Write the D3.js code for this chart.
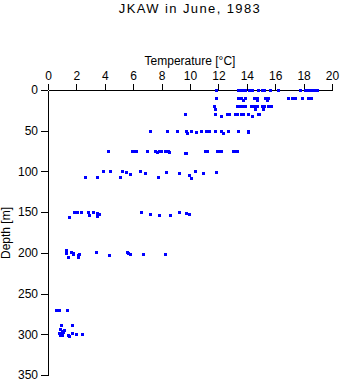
<!DOCTYPE html>
<html>
<head>
<meta charset="utf-8">
<script src="https://cdn.jsdelivr.net/npm/d3@7"></script>
<style>
  html, body { margin: 0; padding: 0; background: #fff; }
  svg { display: block; font-family: "Liberation Sans", Arial, Helvetica, sans-serif; }
</style>
</head>
<body>
<svg id="chart" width="341" height="384"></svg>
<script>
// ---- Data (temperature °C, depth m) ----
const temp0   = [11.8, 13.4, 13.5, 13.7, 13.9, 14.15, 14.4, 14.8, 15.1, 15.2, 15.6, 16.2, 17.75, 18.1, 18.3, 18.5, 18.7, 18.95];
const depth0  = [0, 0, 0, 0, 0, 0, 0, 0, 0, 0, 0, 0, 0, 0, 0, 0, 0, 0];

const temp10  = [11.8, 13.4, 13.5, 13.6, 13.9, 14.5, 14.65, 14.75, 15.3, 15.4, 15.5, 16.9, 17.15, 17.4, 17.9, 18.3, 18.5, 13.7, 14.7, 15.45];
const depth10 = [10, 10, 10, 10, 10, 10, 10, 10, 10, 10, 10, 10, 10, 10, 10, 10, 10, 12, 12, 12];

const temp20  = [11.7, 13.3, 13.5, 13.7, 13.9, 14.3, 14.5, 14.6, 14.7, 15.1, 15.2, 15.5, 15.7, 11.75, 14.6, 15.15];
const depth20 = [20, 20, 20, 20, 20, 20, 20, 20, 20, 20, 20, 20, 20, 23, 23, 23];

const temp30  = [9.65, 11.75, 12.6, 12.75, 13.15, 13.3, 13.6, 13.75, 14.1, 14.8, 14.85, 12.2, 14.35];
const depth30 = [30, 30, 30, 30, 30, 30, 30, 30, 30, 30, 30, 32, 32];

const temp50  = [7.2, 8.4, 9.05, 9.75, 10.1, 10.4, 10.75, 11.15, 11.35, 11.75, 12.2, 12.35, 12.7, 13.35, 14.05, 14.1, 9.8];
const depth50 = [50, 50, 50, 50, 50, 52, 50, 50, 50, 50, 50, 53, 50, 50, 50, 51, 53];

const temp75  = [4.25, 5.95, 6.1, 6.2, 7.0, 7.55, 7.65, 7.85, 7.95, 8.25, 8.45, 8.55, 11.05, 11.2, 11.9, 12.05, 12.15, 13.05, 13.15, 13.3, 9.65, 9.75];
const depth75 = [75, 75, 75, 75, 75, 75, 76, 75, 75, 75, 75, 76, 75, 75, 75, 75, 75, 75, 75, 75, 77, 77];

const temp100  = [2.6, 3.45, 3.9, 4.35, 5.05, 5.2, 5.5, 5.8, 6.5, 6.8, 7.75, 8.3, 9.25, 9.95, 10.05, 10.35, 10.95, 11.85];
const depth100 = [106.5, 106.5, 100, 100, 107, 100, 101, 103, 100, 102, 107, 101, 102, 104, 108, 100, 102, 101];

const temp150  = [1.5, 1.8, 1.9, 2.05, 2.35, 2.8, 2.9, 3.2, 3.45, 3.45, 3.6, 6.55, 7.15, 7.85, 8.6, 9.2, 9.7, 9.95];
const depth150 = [156, 150, 150, 150, 150, 150, 154, 150, 151, 155, 152, 150, 152, 154, 154, 150, 151, 152];

const temp200  = [1.3, 1.27, 1.43, 1.6, 1.74, 1.78, 2.1, 2.2, 2.13, 3.38, 4.3, 5.54, 5.6, 5.77, 6.7, 8.24];
const depth200 = [196.5, 200.5, 204.7, 198.6, 200.5, 201.7, 202.6, 201.7, 204.7, 199.3, 202.6, 198.6, 200.5, 201.7, 201.7, 201.7];

const temp270  = [0.54, 0.65, 0.8, 1.36];
const depth270 = [270, 270, 270, 270];

const temp300  = [0.92, 1.71, 0.85, 0.96, 1.13, 0.8, 0.92, 1.04, 0.85, 0.96, 1.43, 1.5, 1.71, 1.97, 2.42];
const depth300 = [288.6, 288.6, 293.5, 295.6, 294.7, 298, 298.8, 296.8, 301.2, 301.2, 301, 302, 298, 300, 300];

const tempTicks  = [0, 2, 4, 6, 8, 10, 12, 14, 16, 18, 20];
const depthTicks = [0, 50, 100, 150, 200, 250, 300, 350];

const titleText = "JKAW in June, 1983";
const xLabel = "Temperature [°C]";
const yLabel = "Depth [m]";

// ---- Build point table ----
const groups = [
  [temp0, depth0], [temp10, depth10], [temp20, depth20], [temp30, depth30],
  [temp50, depth50], [temp75, depth75], [temp100, depth100], [temp150, depth150],
  [temp200, depth200], [temp270, depth270], [temp300, depth300]
];
const points = [];
groups.forEach(([t, d]) => t.forEach((v, i) => points.push({ t: v, d: d[i] })));

// ---- Chart ----
const svg = d3.select("#chart");
const x = d3.scaleLinear().domain([0, 20]).range([48, 332]);
const y = d3.scaleLinear().domain([0, 350]).range([90, 375]);

// title
svg.append("text")
  .attr("x", 190).attr("y", 13)
  .attr("text-anchor", "middle")
  .attr("font-size", 13)
  .attr("letter-spacing", "1.4px")
  .text(titleText);

// x axis (top)
const gx = svg.append("g")
  .attr("transform", "translate(0,90)")
  .call(d3.axisTop(x).tickValues(tempTicks).tickFormat(d3.format("d"))
    .tickSize(6).tickSizeOuter(0).tickPadding(4));

// y axis (left)
const gy = svg.append("g")
  .attr("transform", "translate(48,0)")
  .call(d3.axisLeft(y).tickValues(depthTicks).tickFormat(d3.format("d"))
    .tickSize(7).tickSizeOuter(0).tickPadding(3));

[gx, gy].forEach(g => {
  g.selectAll("path, line").attr("stroke", "#000").attr("shape-rendering", "crispEdges");
  g.selectAll("text").attr("font-size", 12).attr("fill", "#000")
    .attr("font-family", "'Liberation Sans', Arial, sans-serif");
});

// axis titles
svg.append("text")
  .attr("x", 190).attr("y", 65)
  .attr("text-anchor", "middle")
  .attr("font-size", 12)
  .text(xLabel);

svg.append("text")
  .attr("transform", "translate(10,233) rotate(-90)")
  .attr("text-anchor", "middle")
  .attr("font-size", 12)
  .text(yLabel);

// points
svg.append("g")
  .selectAll("rect")
  .data(points)
  .join("rect")
  .attr("x", p => Math.round(x(p.t)) - 1)
  .attr("y", p => Math.round(y(p.d)) - 1)
  .attr("width", 3)
  .attr("height", 3)
  .attr("fill", "#0000ff")
  .attr("shape-rendering", "crispEdges");
</script>
</body>
</html>
